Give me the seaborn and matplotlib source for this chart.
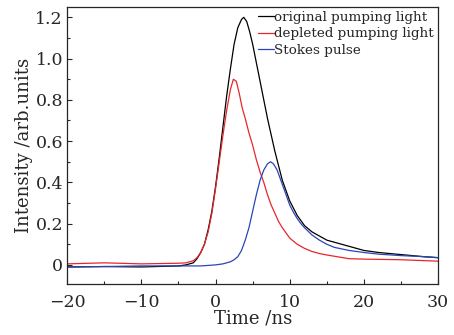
import numpy as np
import pandas as pd
import matplotlib
matplotlib.use("Agg")
import matplotlib.pyplot as plt
import seaborn as sns

# time axis (ns) and intensities
t_orig = [-20, -15, -10, -5, -4, -3, -2.5, -2, -1.5, -1, -0.5, 0, 0.5, 1, 1.5, 2, 2.5, 3, 3.5, 3.8,
          4.2, 4.6, 5, 5.5, 6, 6.5, 7, 7.5, 8, 8.5, 9, 9.5, 10, 11, 12, 13, 14, 15, 16, 18, 20, 22,
          25, 28, 30]
v_orig = [-0.01, -0.008, -0.01, -0.005, 0.0, 0.01, 0.03, 0.06, 0.1, 0.17, 0.26, 0.38, 0.52, 0.67,
          0.82, 0.95, 1.07, 1.15, 1.19, 1.2, 1.18, 1.13, 1.07, 0.98, 0.89, 0.80, 0.71, 0.63, 0.55,
          0.48, 0.41, 0.36, 0.31, 0.24, 0.19, 0.16, 0.14, 0.12, 0.11, 0.09, 0.07, 0.06, 0.05, 0.04,
          0.035]

t_depl = [-20, -15, -10, -5, -4, -3, -2.5, -2, -1.5, -1, -0.5, 0, 0.5, 1, 1.5, 2, 2.4, 2.8, 3.2,
          3.6, 4, 4.5, 5, 5.5, 6, 6.5, 7, 7.5, 8, 8.5, 9, 10, 11, 12, 13, 14, 15, 16, 18, 20, 25, 30]
v_depl = [0.005, 0.01, 0.005, 0.008, 0.01, 0.02, 0.035, 0.06, 0.1, 0.16, 0.25, 0.37, 0.5, 0.63,
          0.75, 0.85, 0.9, 0.89, 0.83, 0.76, 0.71, 0.64, 0.58, 0.51, 0.45, 0.40, 0.34, 0.29, 0.25,
          0.21, 0.18, 0.13, 0.10, 0.08, 0.065, 0.055, 0.048, 0.042, 0.03, 0.028, 0.025, 0.018]

t_stokes = [-20, -15, -10, -5, -2, 0, 1, 2, 2.5, 3, 3.5, 4, 4.5, 5, 5.5, 6, 6.5, 7, 7.4, 7.8, 8.3,
            8.8, 9.2, 9.6, 10, 10.5, 11, 11.5, 12, 13, 14, 15, 16, 18, 20, 22, 25, 28, 30]
v_stokes = [-0.01, -0.008, -0.005, -0.005, -0.005, 0.0, 0.005, 0.015, 0.025, 0.04, 0.07, 0.12,
            0.18, 0.26, 0.34, 0.41, 0.46, 0.49, 0.5, 0.49, 0.46, 0.41, 0.37, 0.33, 0.29, 0.255,
            0.225, 0.2, 0.18, 0.145, 0.12, 0.1, 0.085, 0.07, 0.06, 0.052, 0.045, 0.04, 0.035]

names = ["original pumping light", "depleted pumping light", "Stokes pulse"]
colors = ["black", "#e8262a", "#2b45b5"]

df = pd.concat([
    pd.DataFrame({"t": t_orig, "v": v_orig, "s": names[0]}),
    pd.DataFrame({"t": t_depl, "v": v_depl, "s": names[1]}),
    pd.DataFrame({"t": t_stokes, "v": v_stokes, "s": names[2]}),
])

sns.set_style("ticks")
plt.rcParams["font.family"] = ["DejaVu Serif"]
plt.rcParams["mathtext.fontset"] = "dejavuserif"

fig = plt.figure(figsize=(4.54, 3.35), dpi=100)
ax = fig.add_axes([0.148, 0.152, 0.817, 0.827])

sns.lineplot(data=df, x="t", y="v", hue="s", palette=dict(zip(names, colors)),
             linewidth=0.9, ax=ax, sort=False, estimator=None)

ax.set_xlim(-20, 30)
ax.set_ylim(-0.093, 1.25)
ax.set_xticks([-20, -10, 0, 10, 20, 30])
ax.set_xticks(np.arange(-15, 30, 10), minor=True)
ax.set_yticks([0, 0.2, 0.4, 0.6, 0.8, 1.0, 1.2])
ax.set_yticklabels(["0", "0.2", "0.4", "0.6", "0.8", "1.0", "1.2"])
ax.set_yticks(np.arange(0.1, 1.21, 0.2), minor=True)
ax.tick_params(which="both", direction="in", labelsize=12.5, width=0.8)
ax.tick_params(which="major", length=3.5)
ax.tick_params(which="minor", length=2.5)
ax.tick_params(axis="x", which="major", pad=7)
ax.tick_params(axis="y", which="major", pad=3)
for sp in ax.spines.values():
    sp.set_linewidth(0.9)

ax.set_xlabel("Time /ns", fontsize=13, labelpad=-1)
ax.set_ylabel("Intensity /arb.units", fontsize=13, labelpad=2)

ax.legend(loc="upper right", frameon=False, fontsize=9.7, handlelength=1.2,
          handletextpad=0.0, labelspacing=0.25, borderaxespad=0.1, borderpad=0.2)

fig.savefig("out.png", dpi=100)
